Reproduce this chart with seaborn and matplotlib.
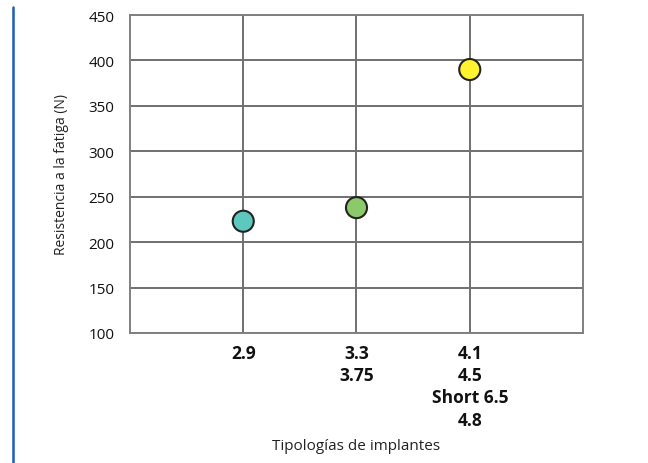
import matplotlib
matplotlib.use("Agg")
import matplotlib.pyplot as plt
import pandas as pd
import seaborn as sns
from matplotlib.lines import Line2D

# data
tipologias = ["2.9", "3.3\n3.75", "4.1\n4.5\nShort 6.5\n4.8"]
resistencia = [223, 238, 390]
colores = ["#5cc9bf", "#8cc96a", "#fff22e"]
y_ticks = [100, 150, 200, 250, 300, 350, 400, 450]

sns.set_style("white")
plt.rcParams["font.family"] = ["Open Sans", "DejaVu Sans"]

df = pd.DataFrame({"tipo": tipologias, "res": resistencia})

fig = plt.figure(figsize=(6.48, 4.64), dpi=100)
ax = fig.add_axes([0.2006, 0.2802, 0.6991, 0.6853])

sns.scatterplot(data=df, x="tipo", y="res", hue="tipo", palette=colores,
                s=230, edgecolor="#222222", linewidth=1.5, legend=False,
                zorder=3, ax=ax)

ax.set_xlim(-1, 3)
ax.set_ylim(100, 450)
ax.set_yticks(y_ticks)
ax.set_xticks(range(len(tipologias)))
ax.set_xticklabels(tipologias, fontsize=12.5, fontweight="bold",
                   linespacing=1.3, color="#111111")
ax.tick_params(axis="y", labelsize=11, length=0, pad=11, colors="#111111")
ax.tick_params(axis="x", length=0, pad=8)

ax.grid(True, color="#707070", linewidth=1.4)
ax.set_axisbelow(True)
for sp in ax.spines.values():
    sp.set_color("#808080")
    sp.set_linewidth(1.4)

ax.set_xlabel("Tipologías de implantes", fontsize=11, color="#222222", labelpad=7)
ax.set_ylabel("Resistencia a la fatiga (N)", fontsize=10, color="#222222", labelpad=14)

# blue bar on the left edge
fig.add_artist(Line2D([0.0196, 0.0196], [0.0, 0.983], transform=fig.transFigure,
                      color="#1a5fb4", linewidth=1.8))

fig.savefig("out.png", dpi=100)
